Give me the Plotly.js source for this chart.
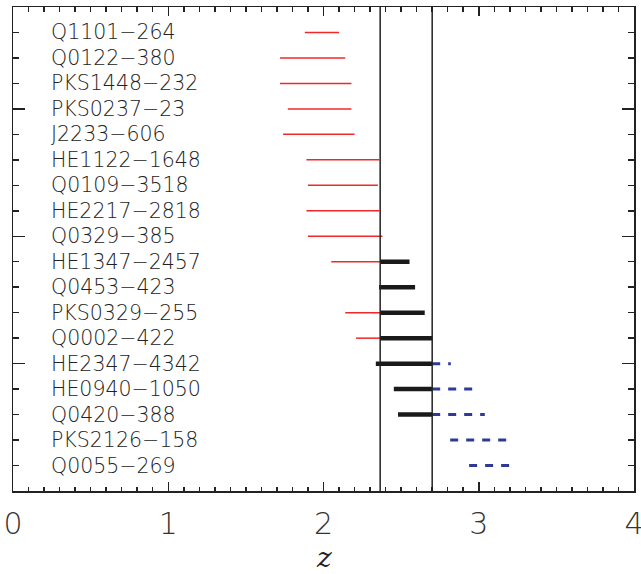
<!DOCTYPE html>
<html>
<head>
<meta charset="utf-8">
<script src="https://cdn.plot.ly/plotly-3.0.1.min.js"></script>
<style>
  html, body { margin: 0; padding: 0; background: #fff; }
  #chart { width: 641px; height: 574px; }
</style>
</head>
<body>
<div id="chart"></div>
<script>
// Quasar names, top to bottom
const quasars = [
  "Q1101\u2212264", "Q0122\u2212380", "PKS1448\u2212232", "PKS0237\u221223",
  "J2233\u2212606", "HE1122\u22121648", "Q0109\u22123518", "HE2217\u22122818",
  "Q0329\u2212385", "HE1347\u22122457", "Q0453\u2212423", "PKS0329\u2212255",
  "Q0002\u2212422", "HE2347\u22124342", "HE0940\u22121050", "Q0420\u2212388",
  "PKS2126\u2212158", "Q0055\u2212269"
];

// Redshift coverage per quasar, split into three ranges (null = no coverage)
const redLo   = [1.88, 1.72, 1.72, 1.77, 1.74, 1.89, 1.90, 1.89, 1.90, 2.05, null, 2.14, 2.21, null, null, null, null, null];
const redHi   = [2.10, 2.14, 2.18, 2.18, 2.20, 2.36, 2.35, 2.36, 2.38, 2.365, null, 2.365, 2.365, null, null, null, null, null];
const blackLo = [null, null, null, null, null, null, null, null, null, 2.365, 2.358, 2.365, 2.365, 2.337, 2.453, 2.48, null, null];
const blackHi = [null, null, null, null, null, null, null, null, null, 2.554, 2.59, 2.652, 2.70, 2.70, 2.70, 2.70, null, null];
const blueLo  = [null, null, null, null, null, null, null, null, null, null, null, null, null, 2.70, 2.70, 2.70, 2.816, 2.938];
const blueHi  = [null, null, null, null, null, null, null, null, null, null, null, null, null, 2.82, 2.966, 3.039, 3.18, 3.20];

// Boundaries of the common redshift window
const zWindow = [2.365, 2.70];

const nRows = quasars.length;
const rowY = quasars.map((_, i) => nRows - i);   // 18 at the top ... 1 at the bottom

function segments(lo, hi) {
  const x = [], y = [];
  lo.forEach((v, i) => {
    if (v === null || hi[i] === null) return;
    x.push(v, hi[i], null);
    y.push(rowY[i], rowY[i], null);
  });
  return { x, y };
}

const red = segments(redLo, redHi);
const black = segments(blackLo, blackHi);
const blue = segments(blueLo, blueHi);

const traces = [
  { x: red.x, y: red.y, mode: "lines", type: "scatter", hoverinfo: "skip",
    line: { color: "#f02828", width: 1.5 }, connectgaps: false },
  { x: black.x, y: black.y, mode: "lines", type: "scatter", hoverinfo: "skip",
    line: { color: "#1a1a1a", width: 4.5 }, connectgaps: false },
  { x: blue.x, y: blue.y, mode: "lines", type: "scatter", hoverinfo: "skip",
    line: { color: "#2e3a96", width: 3, dash: "8px,8px" }, connectgaps: false }
];

const labelFont = { family: "DejaVu Sans", size: 20.5, color: "#222", weight: 200 };

const annotations = quasars.map((name, i) => ({
  x: 0.235, y: rowY[i], xref: "x", yref: "y",
  text: name, showarrow: false, xanchor: "left", yanchor: "middle",
  font: labelFont
}));

// Axis label for the redshift axis, placed below the tick labels
annotations.push({
  x: 0.5, y: -0.137, xref: "paper", yref: "paper",
  text: "z", showarrow: false, xanchor: "center", yanchor: "middle",
  font: { family: "DejaVu Serif", size: 28, style: "italic", color: "#222" }
});

const shapes = zWindow.map(z => ({
  type: "line", xref: "x", yref: "paper", x0: z, x1: z, y0: 0, y1: 1,
  line: { color: "#222", width: 1.5 }
}));

const layout = {
  width: 641, height: 574,
  margin: { l: 13, r: 7, t: 7, b: 83 },
  paper_bgcolor: "#fff", plot_bgcolor: "#fff",
  showlegend: false,
  xaxis: {
    range: [0, 4], dtick: 1, tick0: 0,
    ticks: "inside", ticklen: 9, tickwidth: 1.5, tickcolor: "#222",
    minor: { dtick: 0.1, ticks: "inside", ticklen: 4.5, tickwidth: 1.5, tickcolor: "#222" },
    showline: true, linecolor: "#222", linewidth: 1.5, mirror: "ticks",
    showgrid: false, zeroline: false,
    tickfont: { family: "DejaVu Sans", size: 30, color: "#333", weight: 200 },
    ticklabelstandoff: 5, ticklabeloverflow: "allow"
  },
  yaxis: {
    range: [0, 19], dtick: 5, tick0: 0,
    ticks: "inside", ticklen: 12, tickwidth: 1.5, tickcolor: "#222",
    minor: { dtick: 1, ticks: "inside", ticklen: 6, tickwidth: 1.5, tickcolor: "#222" },
    showline: true, linecolor: "#222", linewidth: 1.5, mirror: "ticks",
    showgrid: false, zeroline: false, showticklabels: false
  },
  annotations, shapes
};

Plotly.newPlot("chart", traces, layout, { staticPlot: true, displayModeBar: false });
</script>
</body>
</html>
